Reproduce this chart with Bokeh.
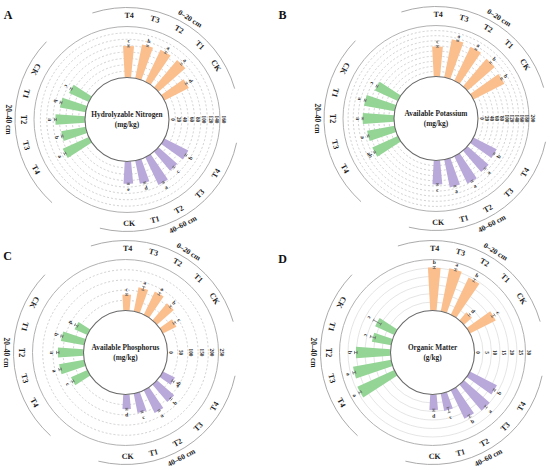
import math
from bokeh.plotting import figure
from bokeh.models import Range1d
from bokeh.core.properties import value
from bokeh.embed import file_html
from bokeh.resources import INLINE

# ---------------- data ----------------
treatments = ["CK", "T1", "T2", "T3", "T4"]
depths = ["0\u201320 cm", "20\u201340 cm", "40\u201360 cm"]
depth_colors = ["#FBBF8E", "#94D596", "#B9A8DA"]

# A: Hydrolyzable nitrogen (mg/kg)
hn_0_20 = [86, 112, 111, 108, 99]
hn_20_40 = [68, 82, 93, 78, 90]
hn_40_60 = [70, 74, 96, 78, 84]
hn_err_0_20 = [3, 2.5, 3, 2, 3]
hn_err_20_40 = [3, 3, 3, 2.5, 3]
hn_err_40_60 = [2, 2, 2.5, 3, 2.5]
hn_let_0_20 = ["d", "a", "a", "b", "c"]
hn_let_20_40 = ["c", "b", "a", "b", "a"]
hn_let_40_60 = ["e", "d", "a", "c", "b"]
hn_ticks = [0, 20, 40, 60, 80, 100, 120, 140, 160]

# B: Available potassium (mg/kg)
ak_0_20 = [136, 142, 148, 152, 118]
ak_20_40 = [99, 122, 123, 110, 110]
ak_40_60 = [94, 111, 119, 110, 102]
ak_err_0_20 = [3, 3, 2, 2, 3]
ak_err_20_40 = [3, 3, 2, 3, 3]
ak_err_40_60 = [3, 2, 3, 3, 2]
ak_let_0_20 = ["b", "b", "a", "a", "c"]
ak_let_20_40 = ["c", "a", "a", "a", "ab"]
ak_let_40_60 = ["c", "a", "a", "a", "b"]
ak_ticks = [0, 20, 40, 60, 80, 100, 120, 140, 160, 180, 200]

# C: Available phosphorus (mg/kg)
ap_0_20 = [74, 109, 126, 120, 78]
ap_20_40 = [69, 116, 126, 125, 88]
ap_40_60 = [72, 96, 123, 112, 66]
ap_err_0_20 = [6, 5, 6, 9, 4]
ap_err_20_40 = [8, 5, 6, 6, 5]
ap_err_40_60 = [4, 4, 4, 5, 6]
ap_let_0_20 = ["c", "b", "a", "a", "c"]
ap_let_20_40 = ["d", "b", "a", "a", "c"]
ap_let_40_60 = ["d", "c", "a", "b", "ab"]
ap_ticks = [0, 50, 100, 150, 200, 250]

# D: Organic matter (g/kg)
om_0_20 = [17.0, 6.2, 24.3, 25.8, 25.3]
om_20_40 = [12.4, 11.5, 20.4, 22.8, 23.9]
om_40_60 = [9.2, 10.4, 18.6, 20.1, 17.8]
om_err_0_20 = [1.0, 0.6, 0.8, 0.6, 0.6]
om_err_20_40 = [2.5, 1.5, 0.8, 0.8, 0.8]
om_err_40_60 = [0.6, 1.5, 0.8, 0.8, 0.6]
om_let_0_20 = ["c", "d", "b", "a", "b"]
om_let_20_40 = ["c", "c", "b", "a", "a"]
om_let_40_60 = ["d", "c", "b", "a", "b"]
om_ticks = [0, 5, 10, 15, 20, 25, 30]

panels = [
    dict(tag="A", title="Hydrolyzable Nitrogen", unit="(mg/kg)", cx=126.5, cy=351,
         vals=[hn_0_20, hn_20_40, hn_40_60], errs=[hn_err_0_20, hn_err_20_40, hn_err_40_60],
         lets=[hn_let_0_20, hn_let_20_40, hn_let_40_60], ticks=hn_ticks, tx=7.5, ty=456,
         grid_dash="2 2", grid_color="#bdbdbd"),
    dict(tag="B", title="Available Potassium", unit="(mg/kg)", cx=435.5, cy=352,
         vals=[ak_0_20, ak_20_40, ak_40_60], errs=[ak_err_0_20, ak_err_20_40, ak_err_40_60],
         lets=[ak_let_0_20, ak_let_20_40, ak_let_40_60], ticks=ak_ticks, tx=282, ty=456,
         grid_dash="2 2", grid_color="#bdbdbd"),
    dict(tag="C", title="Available Phosphorus", unit="(mg/kg)", cx=125, cy=118,
         vals=[ap_0_20, ap_20_40, ap_40_60], errs=[ap_err_0_20, ap_err_20_40, ap_err_40_60],
         lets=[ap_let_0_20, ap_let_20_40, ap_let_40_60], ticks=ap_ticks, tx=7, ty=215,
         grid_dash="2 2", grid_color="#bdbdbd"),
    dict(tag="D", title="Organic Matter", unit="(g/kg)", cx=432, cy=118,
         vals=[om_0_20, om_20_40, om_40_60], errs=[om_err_0_20, om_err_20_40, om_err_40_60],
         lets=[om_let_0_20, om_let_20_40, om_let_40_60], ticks=om_ticks, tx=282, ty=212,
         grid_dash="solid", grid_color="#dadada"),
]

# ---------------- geometry / style ----------------
R0 = 42.0        # inner circle
SPAN = 51.0      # radial length of value axis
R_CAT = 104.0    # treatment labels
R_ARC = 112.0    # depth arcs
R_DEP = 119.0    # depth labels
STEP = 14.4      # angular spacing of bars (deg)
BAR_W = 8.6      # angular width of bars (deg)
FONT = value("Liberation Serif")
GREY_TXT = "#1e1e1e"

p = figure(width=550, height=470, x_range=Range1d(0, 550), y_range=Range1d(0, 470),
           output_backend="svg", toolbar_location=None, x_axis_type=None, y_axis_type=None,
           min_border=0, min_border_left=0, min_border_right=0, min_border_top=0,
           min_border_bottom=0, outline_line_color=None, background_fill_color="white",
           border_fill_color="white")
p.xgrid.visible = False
p.ygrid.visible = False


def text_angle(g, theta):
    # depth 0-20 reads with tops outward, the others with tops inward
    return theta - 90 if g == 0 else theta + 90


for P in panels:
    cx, cy = P["cx"], P["cy"]
    vmax = P["ticks"][-1]

    def rad(v):
        return R0 + v / vmax * SPAN

    # grid circles
    p.circle(x=[cx] * (len(P["ticks"]) - 2), y=[cy] * (len(P["ticks"]) - 2),
             radius=[rad(t) for t in P["ticks"][1:-1]], fill_color=None,
             line_color=P["grid_color"], line_width=0.7, line_dash=P["grid_dash"])
    # outer solid circle
    p.circle(x=[cx], y=[cy], radius=[rad(vmax)], fill_color=None,
             line_color="#a8a8a8", line_width=0.9)

    # depth arcs and labels
    for g in range(3):
        center = 60 + 120 * g
        p.arc(x=[cx], y=[cy], radius=[R_ARC], start_angle=[center + 2 - 46],
              end_angle=[center + 2 + 46], start_angle_units="deg", end_angle_units="deg",
              line_color="#a0a0a0", line_width=0.9)
        th = [58, 180, -62][g]
        p.text(x=[cx + R_DEP * math.cos(math.radians(th))],
               y=[cy + R_DEP * math.sin(math.radians(th))],
               text=[depths[g]], angle=[text_angle(g, th)], angle_units="deg",
               text_font=FONT, text_font_style="bold", text_font_size="7.5px",
               text_align="center", text_baseline="middle", text_color=GREY_TXT)

    # bars, error bars, letters, treatment labels
    for g in range(3):
        center = 60 + 120 * g
        thetas = [center + (i - 2) * STEP for i in range(5)]
        vals = P["vals"][g]
        errs = P["errs"][g]
        p.annular_wedge(x=[cx] * 5, y=[cy] * 5, inner_radius=R0,
                        outer_radius=[rad(v) for v in vals],
                        start_angle=[t - BAR_W / 2 for t in thetas],
                        end_angle=[t + BAR_W / 2 for t in thetas],
                        start_angle_units="deg", end_angle_units="deg",
                        fill_color=depth_colors[g], line_color=None)
        x0s, y0s, x1s, y1s = [], [], [], []
        for t, v, e in zip(thetas, vals, errs):
            c, s = math.cos(math.radians(t)), math.sin(math.radians(t))
            ra, rb = rad(v - e), rad(v + e)
            x0s.append(cx + ra * c); y0s.append(cy + ra * s)
            x1s.append(cx + rb * c); y1s.append(cy + rb * s)
            for rr in (ra, rb):
                x0s.append(cx + rr * c - 1.6 * s); y0s.append(cy + rr * s + 1.6 * c)
                x1s.append(cx + rr * c + 1.6 * s); y1s.append(cy + rr * s - 1.6 * c)
        p.segment(x0=x0s, y0=y0s, x1=x1s, y1=y1s, line_color="#606060", line_width=0.7)

        lx = [cx + (rad(v + e) + 4.5) * math.cos(math.radians(t)) for t, v, e in zip(thetas, vals, errs)]
        ly = [cy + (rad(v + e) + 4.5) * math.sin(math.radians(t)) for t, v, e in zip(thetas, vals, errs)]
        p.text(x=lx, y=ly, text=P["lets"][g], angle=[text_angle(g, t) for t in thetas],
               angle_units="deg", text_font=FONT, text_font_style="bold",
               text_font_size="5.5px", text_align="center", text_baseline="middle",
               text_color=GREY_TXT)

        cxs = [cx + R_CAT * math.cos(math.radians(t)) for t in thetas]
        cys = [cy + R_CAT * math.sin(math.radians(t)) for t in thetas]
        p.text(x=cxs, y=cys, text=treatments, angle=[text_angle(g, t) for t in thetas],
               angle_units="deg", text_font=FONT, text_font_style="bold",
               text_font_size="8px", text_align="center", text_baseline="middle",
               text_color=GREY_TXT)

    # inner circle
    p.circle(x=[cx], y=[cy], radius=[R0], fill_color="white", line_color="#6a6a6a",
             line_width=1.1)

    # tick labels along 0 degrees
    p.text(x=[cx + rad(t) + 3.5 for t in P["ticks"]], y=[cy] * len(P["ticks"]),
           text=[str(t) for t in P["ticks"]], angle=-90, angle_units="deg",
           text_font=FONT, text_font_style="bold", text_font_size="5.2px",
           text_align="center", text_baseline="middle", text_color=GREY_TXT)

    # center title
    p.text(x=[cx, cx], y=[cy + 4.7, cy - 4.7], text=[P["title"], P["unit"]],
           text_font=FONT, text_font_style="bold", text_font_size="7.3px",
           text_align="center", text_baseline="middle", text_color=GREY_TXT)

    # panel tag
    p.text(x=[P["tx"]], y=[P["ty"]], text=[P["tag"]], text_font=FONT,
           text_font_style="bold", text_font_size="12px", text_align="center",
           text_baseline="middle", text_color="#111111")

open("out.html", "w").write(file_html(p, INLINE))
